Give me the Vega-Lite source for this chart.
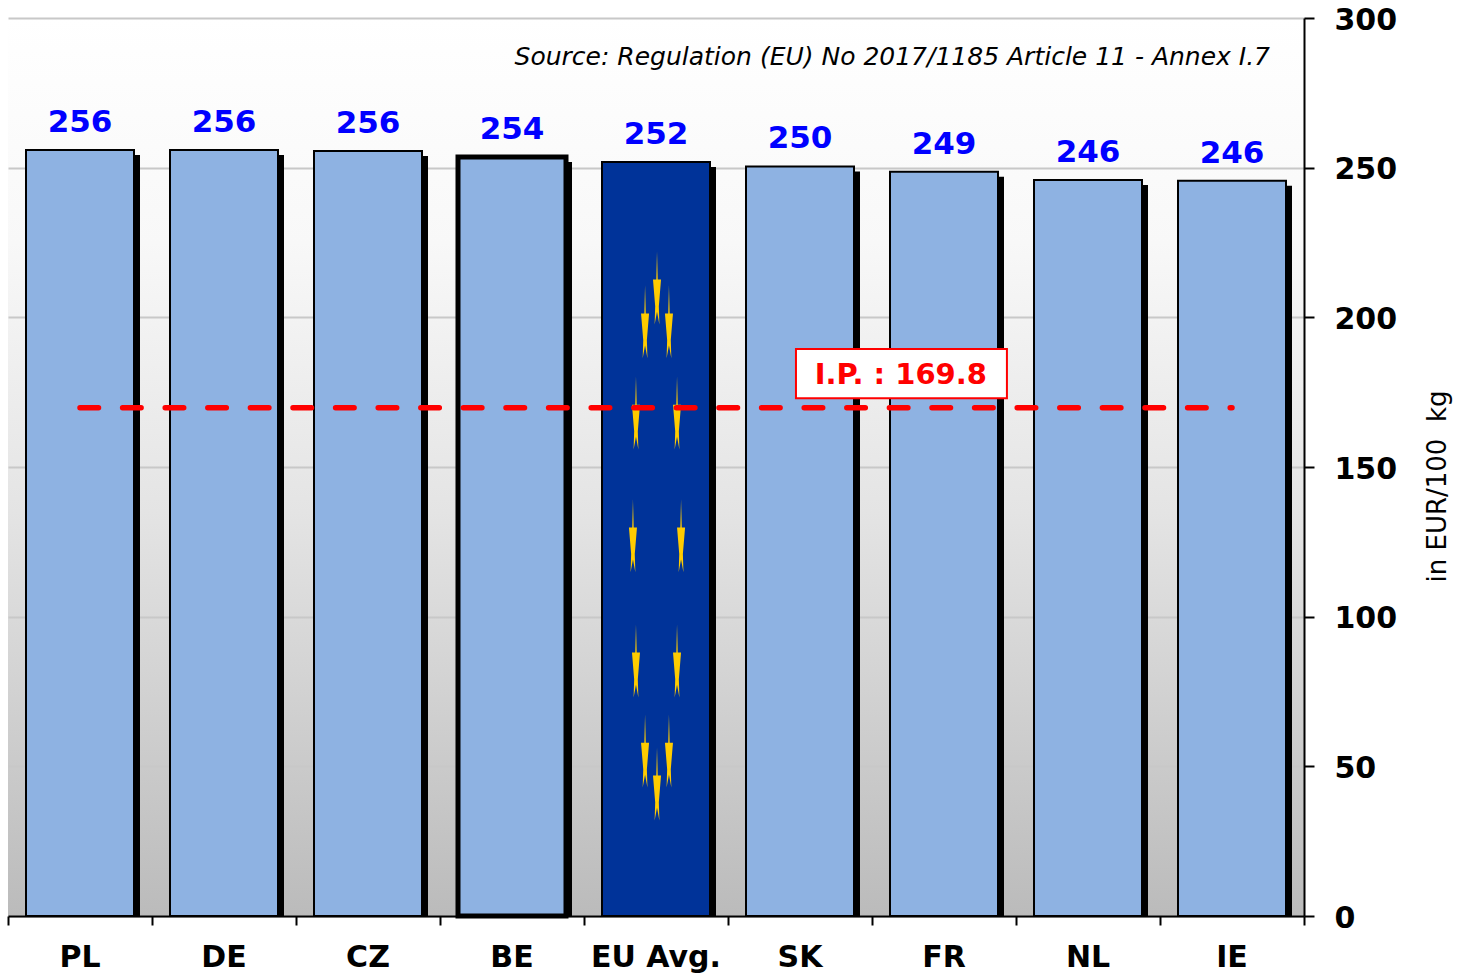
{
"$schema":"https://vega.github.io/schema/vega-lite/v6.json",
"width":1296,"height":898,
"autosize":"none",
"padding":{"left":8,"top":18,"right":158,"bottom":59},
"background":"white",
"config":{"view":{"stroke":null,"fill":{"gradient":"linear","x1":0,"y1":0,"x2":0,"y2":1,"stops":[{"offset":0,"color":"#ffffff"},{"offset":0.25,"color":"#f8f8f8"},{"offset":0.55,"color":"#e4e4e4"},{"offset":1,"color":"#bbbbbb"}]}},"font":"DejaVu Sans"},
"datasets":{
"bars":[
{"country":"PL","price":255.9,"group":"country","ip":169.8},
{"country":"DE","price":255.9,"group":"country","ip":169.8},
{"country":"CZ","price":255.6,"group":"country","ip":169.8},
{"country":"BE","price":253.6,"group":"belgium","ip":169.8},
{"country":"EU Avg.","price":251.9,"group":"eu","ip":169.8},
{"country":"SK","price":250.4,"group":"country","ip":169.8},
{"country":"FR","price":248.6,"group":"country","ip":169.8},
{"country":"NL","price":245.9,"group":"country","ip":169.8},
{"country":"IE","price":245.6,"group":"country","ip":169.8}
],
"stars":[
{"u":4.507,"v":209.8},{"u":4.424,"v":198.5},{"u":4.590,"v":198.5},
{"u":4.361,"v":168},{"u":4.646,"v":168},{"u":4.34,"v":127},{"u":4.674,"v":127},
{"u":4.361,"v":85.2},{"u":4.646,"v":85.2},{"u":4.424,"v":55.1},{"u":4.590,"v":55.1},{"u":4.507,"v":44.1}
],
"note":[{"u":8.764,"v":286.9,"text":"Source: Regulation (EU) No 2017/1185 Article 11 - Annex I.7"}],
"box":[{"u":5.472,"u2":6.937,"v":173,"v2":189.4,"cu":6.2,"cv":180.6,"text":"I.P. : 169.8"}]
},
"resolve":{"scale":{"x":"independent"},"axis":{"x":"independent"}},
"layer":[
{"data":{"name":"bars"},
 "mark":{"type":"bar","color":"#000000","xOffset":6,"yOffset":5,"clip":true},
 "encoding":{
  "x":{"field":"country","type":"nominal","sort":null,"scale":{"paddingInner":0.25,"paddingOuter":0.125},
   "axis":{"orient":"bottom","title":null,"labelAngle":0,"labelFontSize":30,"labelFontWeight":"bold","labelColor":"#000000","labelPadding":26,"labelBaseline":"top","ticks":false,"domain":false,"zindex":1}},
  "y":{"field":"price","type":"quantitative","scale":{"domain":[0,300],"nice":false},
   "axis":{"orient":"right","values":[0,50,100,150,200,250,300],"title":"in EUR/100\u00a0\u00a0kg","titleFontSize":26,"titleFontWeight":"normal","titleColor":"#000000","titleAngle":270,"titleX":133,"titleY":468,"titleAlign":"center","titleBaseline":"middle","labelFontSize":30,"labelFontWeight":"bold","labelColor":"#000000","labelPadding":20,"labelOffset":2,"tickSize":10,"tickWidth":2,"tickColor":"#000000","domainColor":"#000000","domainWidth":2,"grid":true,"gridColor":"#c8c8c8","gridWidth":2,"zindex":0}}
 }},
{"data":{"name":"bars"},
 "mark":{"type":"bar","stroke":"#000000"},
 "encoding":{
  "x":{"field":"country","type":"nominal","sort":null,"scale":{"paddingInner":0.25,"paddingOuter":0.125},"axis":null},
  "y":{"field":"price","type":"quantitative"},
  "fill":{"field":"group","type":"nominal","scale":{"domain":["country","belgium","eu"],"range":["#8eb2e2","#8eb2e2","#003399"]},"legend":null},
  "strokeWidth":{"field":"group","type":"nominal","scale":{"type":"ordinal","domain":["country","belgium","eu"],"range":[2,5,2]},"legend":null}
 }},
{"data":{"name":"bars"},
 "mark":{"type":"text","color":"#0000ff","fontSize":31,"fontWeight":"bold","baseline":"middle","dy":-27},
 "encoding":{
  "x":{"field":"country","type":"nominal","sort":null,"scale":{"paddingInner":0.25,"paddingOuter":0.125},"axis":null},
  "y":{"field":"price","type":"quantitative"},
  "text":{"field":"price","type":"quantitative","format":".0f"}
 }},
{"data":{"name":"stars"},
 "mark":{"type":"point","filled":true,"opacity":1,"color":"#ffcc00","size":5329,"shape":"M0,-1 L0.02,-0.23 L0.11,-0.23 L0.05,0.5 L0.065,1 L0,0.65 L-0.065,1 L-0.05,0.5 L-0.11,-0.23 L-0.02,-0.23 Z"},
 "encoding":{
  "x":{"field":"u","type":"quantitative","scale":{"domain":[0,9],"nice":false,"zero":false},
   "axis":{"orient":"bottom","title":null,"values":[0,1,2,3,4,5,6,7,8,9],"labels":false,"grid":false,"tickSize":9,"tickWidth":2,"tickColor":"#000000","domainColor":"#000000","domainWidth":2,"zindex":1}},
  "y":{"field":"v","type":"quantitative"}
 }},
{"data":{"name":"bars"},
 "mark":{"type":"line","color":"#ff0000","strokeWidth":5.5,"strokeDash":[18.5,24.1],"strokeCap":"round"},
 "encoding":{
  "x":{"field":"country","type":"nominal","sort":null,"scale":{"paddingInner":0.25,"paddingOuter":0.125},"axis":null},
  "y":{"field":"ip","type":"quantitative"}
 }},
{"data":{"name":"box"},
 "mark":{"type":"rect","fill":"#ffffff","stroke":"#ff0000","strokeWidth":2},
 "encoding":{
  "x":{"field":"u","type":"quantitative","scale":{"domain":[0,9],"nice":false,"zero":false},"axis":null},
  "x2":{"field":"u2"},
  "y":{"field":"v","type":"quantitative"},
  "y2":{"field":"v2"}
 }},
{"data":{"name":"box"},
 "mark":{"type":"text","color":"#ff0000","fontSize":29,"fontWeight":"bold","baseline":"middle","align":"center"},
 "encoding":{
  "x":{"field":"cu","type":"quantitative","scale":{"domain":[0,9],"nice":false,"zero":false},"axis":null},
  "y":{"field":"cv","type":"quantitative"},
  "text":{"field":"text","type":"nominal"}
 }},
{"data":{"name":"note"},
 "mark":{"type":"text","color":"#000000","fontSize":25,"fontStyle":"italic","baseline":"middle","align":"right"},
 "encoding":{
  "x":{"field":"u","type":"quantitative","scale":{"domain":[0,9],"nice":false,"zero":false},"axis":null},
  "y":{"field":"v","type":"quantitative"},
  "text":{"field":"text","type":"nominal"}
 }}
]
}
